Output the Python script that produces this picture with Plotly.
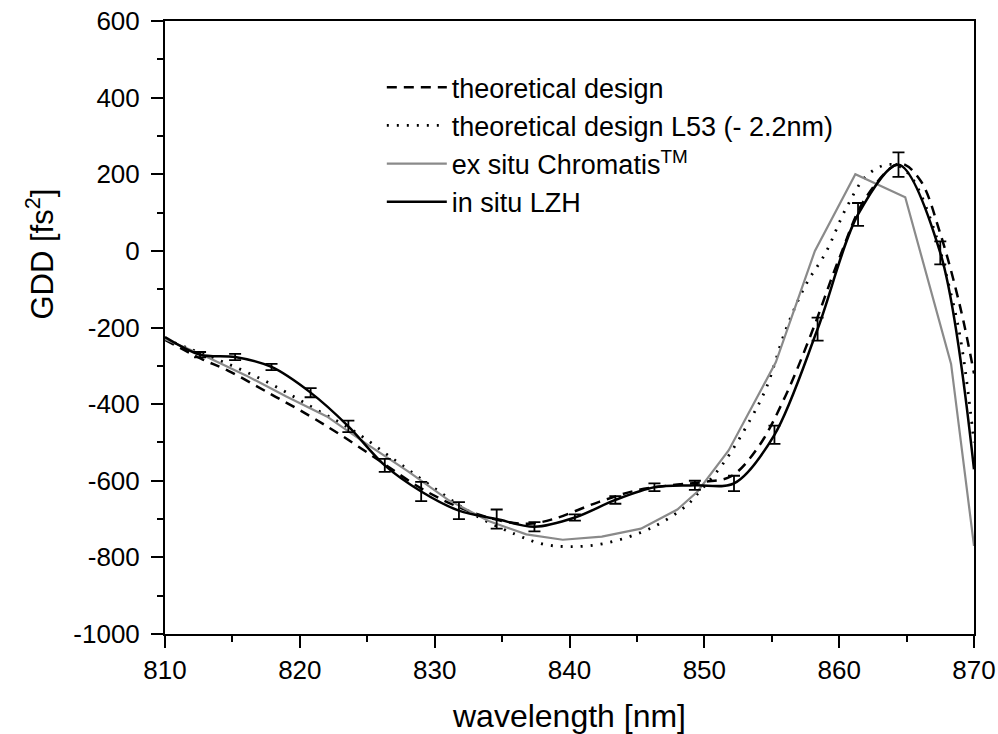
import plotly.graph_objects as go

# ---- data ----
design_x = [810.0, 812.7, 814.7, 817.8, 820.7, 823.1, 826.0, 829.0, 832.0, 835.0, 837.0, 838.8,
            842.2, 845.0, 848.0, 850.0, 852.0, 854.0, 856.0, 858.0, 860.0, 862.0, 864.5, 866.0,
            867.5, 869.0, 870.0]
design_y = [-232, -282, -313, -373, -430, -482, -550, -620, -672, -705, -712, -700,
            -655, -625, -610, -603, -588, -512, -380, -210, -20, 140, 228, 185,
            45, -150, -320]

l53_x = [810.0, 812.0, 815.0, 818.0, 821.0, 824.0, 827.0, 830.0, 833.0, 836.0, 838.0, 840.0,
         842.7, 846.2, 848.7, 849.4, 851.4, 853.4, 854.6, 856.0, 857.5, 859.0, 860.5, 862.0,
         863.5, 864.5, 865.5, 867.0, 868.0, 869.0, 870.0]
l53_y = [-230, -258, -300, -350, -410, -470, -545, -620, -690, -740, -765, -772,
         -763, -721, -664, -638, -555, -441, -357, -210, -90, -5, 110, 195,
         225, 220, 185, 60, -70, -230, -500]

exsitu_x = [810.0, 813.0, 816.0, 819.0, 822.0, 825.0, 828.0, 831.0, 834.0, 836.8, 839.5, 842.4,
            845.3, 848.0, 849.5, 851.8, 855.3, 858.2, 861.2, 864.9, 868.3, 870.0]
exsitu_y = [-230, -275, -325, -380, -432, -505, -575, -650, -705, -740, -754, -746,
            -725, -675, -628, -521, -291, 0, 200, 140, -295, -770]

insitu_x = [810.0, 812.6, 815.2, 817.9, 820.8, 823.6, 826.3, 829.0, 831.8, 834.6, 837.4, 840.4,
            843.4, 846.3, 849.3, 852.2, 855.2, 858.4, 861.4, 864.4, 867.5, 870.0]
insitu_y = [-225, -271, -277, -303, -370, -458, -560, -628, -678, -700, -720, -696,
            -650, -617, -612, -607, -480, -204, 95, 225, -5, -570]

# measured points with error bars
meas_x = insitu_x[1:-1]
meas_y = insitu_y[1:-1]
meas_err = [7, 8, 8, 12, 15, 17, 25, 22, 25, 12, 8, 10, 10, 12, 20, 24, 30, 30, 32, 30]

x_ticks = [810, 820, 830, 840, 850, 860, 870]
y_ticks = [600, 400, 200, 0, -200, -400, -600, -800, -1000]
y_ticktext = ["600", "400", "200", "0", "-200", "-400", "-600", "-800", "-1000"]

FONT = "Liberation Sans, Arial, sans-serif"

fig = go.Figure()
fig.add_trace(go.Scatter(x=design_x, y=design_y, mode="lines", name="theoretical design",
                         line=dict(color="black", width=2.5, dash="10px,7px", shape="spline")))
fig.add_trace(go.Scatter(x=l53_x, y=l53_y, mode="lines", name="theoretical design L53 (- 2.2nm)",
                         line=dict(color="black", width=2.8, dash="2px,8px", shape="spline")))
fig.add_trace(go.Scatter(x=exsitu_x, y=exsitu_y, mode="lines", name="ex situ Chromatis<sup>TM</sup>",
                         line=dict(color="#8a8a8a", width=2.2)))
fig.add_trace(go.Scatter(x=insitu_x, y=insitu_y, mode="lines", name="in situ LZH",
                         line=dict(color="black", width=2.5, shape="spline", smoothing=0.9)))
fig.add_trace(go.Scatter(x=meas_x, y=meas_y, mode="markers", showlegend=False,
                         marker=dict(size=1, color="black"),
                         error_y=dict(type="data", array=meas_err, visible=True,
                                      color="black", thickness=1.8, width=6)))

axis_common = dict(showline=True, linecolor="black", linewidth=2, mirror=True,
                   ticks="outside", tickwidth=2, ticklen=12, tickcolor="black",
                   showgrid=False, zeroline=False, ticklabeloverflow="allow",
                   tickfont=dict(family=FONT, size=26, color="black"))

fig.update_xaxes(range=[810, 870], tickvals=x_ticks,
                 minor=dict(dtick=5, ticks="outside", ticklen=6, tickwidth=2, tickcolor="black"),
                 title=dict(text="wavelength [nm]", font=dict(family=FONT, size=32, color="black"),
                            standoff=22),
                 **axis_common)
fig.update_yaxes(range=[-1000, 600], tickvals=y_ticks, ticktext=y_ticktext, ticklabelstandoff=6,
                 minor=dict(dtick=100, ticks="outside", ticklen=6, tickwidth=2, tickcolor="black"),
                 **axis_common)

# y-axis title (placed as in the reference, level with the upper part of the axis)
fig.add_annotation(text="GDD [fs<sup>2</sup>]", xref="paper", yref="paper",
                   x=-0.155, y=0.62, xanchor="center", yanchor="middle", textangle=-90,
                   showarrow=False, font=dict(family=FONT, size=31, color="black"))

fig.update_layout(
    width=998, height=734,
    margin=dict(l=165, r=24, t=21, b=100, autoexpand=False),
    paper_bgcolor="white", plot_bgcolor="white",
    font=dict(family=FONT, color="black"),
    legend=dict(x=0.268, y=0.931, xanchor="left", yanchor="top",
                font=dict(family=FONT, size=27, color="black"),
                bgcolor="rgba(0,0,0,0)", tracegroupgap=0, itemwidth=60),
    showlegend=True,
)

# remove the browser's default 8px page margin so the figure fills the window exactly
fig.write_html("out.html",
               config={"displayModeBar": False},
               post_script="document.body.style.margin='0px';document.body.style.overflow='hidden';")
